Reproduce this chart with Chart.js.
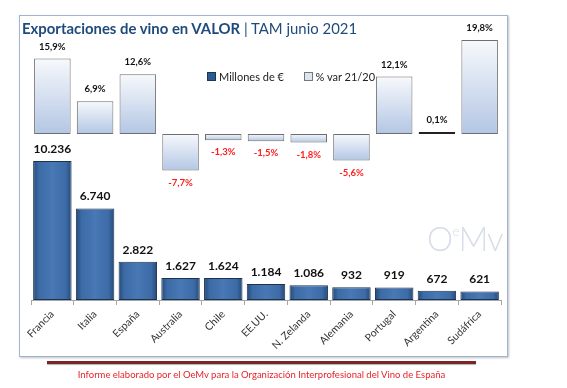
<!DOCTYPE html>
<html>
<head>
<meta charset="utf-8">
<script src="https://cdn.jsdelivr.net/npm/chart.js@4"></script>
<style>
  body { margin: 0; background: #fff; font-family: Lato, "Open Sans", sans-serif; }
  #wrap { position: relative; width: 567px; height: 388px; overflow: hidden; }
  #frame { position: absolute; left: 19px; top: 15px; width: 487px; height: 340px;
           border: 1.5px solid #9db6d4; box-shadow: 1px 1px 2px rgba(0,0,0,0.25); }
  #title { position: absolute; left: 22px; top: 19px; font-size: 14.9px; color: #1f4a7c; white-space: nowrap; }
  #title b { font-weight: 700; }
  #legend { position: absolute; left: 207px; top: 70px; font-size: 11px; color: #222; white-space: nowrap; }
  #legend span.box { display: inline-block; width: 7px; height: 7px; margin-right: 3px; vertical-align: 0px; }
  #mark { position: absolute; left: 427px; top: 218px; color: #d7dde9; font-size: 33px; font-weight: 300; letter-spacing: -1px; }
  #mark sup { font-size: 14px; vertical-align: 15px; }
  #rule { position: absolute; left: 47px; top: 361px; width: 429px; height: 3px; background: #7a2626;
          box-shadow: 0 1px 1px rgba(0,0,0,0.3); }
  #foot { position: absolute; left: 0; width: 523px; top: 369px; text-align: center; font-size: 9.5px; color: #e8232a; }
  canvas { position: absolute; left: 0; top: 0; }
</style>
</head>
<body>
<div id="wrap">
  <div id="frame"></div>
  <canvas id="chart" width="567" height="388"></canvas>
  <div id="title"><b>Exportaciones de vino en VALOR</b> | TAM junio 2021</div>
  <div id="legend">
    <span class="box" style="background:#2d5a91;border:1px solid #1c3553"></span>Millones de €
    <span style="display:inline-block;width:14px"></span>
    <span class="box" style="background:#dbe5f1;border:1px solid #777"></span>% var 21/20
  </div>
  <div id="mark">O<sup>e</sup>Mv</div>
  <div id="rule"></div>
  <div id="foot">Informe elaborado por el OeMv para la Organización Interprofesional del Vino de España</div>
</div>
<script>
// Datos
const paises = ['Francia', 'Italia', 'España', 'Australia', 'Chile', 'EE.UU.', 'N. Zelanda', 'Alemania', 'Portugal', 'Argentina', 'Sudáfrica'];
const millones = [10236, 6740, 2822, 1627, 1624, 1184, 1086, 932, 919, 672, 621];
const variacion = [15.9, 6.9, 12.6, -7.7, -1.3, -1.5, -1.8, -5.6, 12.1, 0.1, 19.8];

const BAR_PCT = 0.9;

// Formato español: punto para miles, coma para decimales
function fmtMiles(v) {
  return String(v).replace(/\B(?=(\d{3})+(?!\d))/g, '.');
}
function fmtPct(v) {
  return v.toFixed(1).replace('.', ',') + '%';
}

// Ancho de barra en pixeles
function barBounds(chart, i) {
  const x = chart.scales.x;
  const w = (x.width / paises.length) * BAR_PCT;
  const cx = x.getPixelForValue(i);
  return [cx - w / 2, cx + w / 2];
}

// Degradado horizontal para las barras de valor
function fondoValor(context) {
  const chart = context.chart;
  if (!chart.chartArea || context.dataIndex === undefined) return '#3a6aa5';
  const [x0, x1] = barBounds(chart, context.dataIndex);
  const g = chart.ctx.createLinearGradient(x0, 0, x1, 0);
  g.addColorStop(0, '#254a78');
  g.addColorStop(0.15, '#3c6ba6');
  g.addColorStop(0.5, '#4878b5');
  g.addColorStop(0.85, '#3c6ba6');
  g.addColorStop(1, '#254a78');
  return g;
}

// Degradado vertical para las barras de variacion
function fondoPct(context) {
  const chart = context.chart;
  if (!chart.chartArea || context.dataIndex === undefined) return '#c9d7ec';
  const s = chart.scales.yPct;
  const v = variacion[context.dataIndex];
  const yv = s.getPixelForValue(v);
  const y0 = s.getPixelForValue(0);
  const top = Math.min(yv, y0), bot = Math.max(yv, y0);
  const g = chart.ctx.createLinearGradient(0, top, 0, bot + 0.01);
  g.addColorStop(0, '#f7f9fc');
  g.addColorStop(1, '#b3c6e4');
  return g;
}

// Etiquetas de datos
const etiquetas = {
  id: 'etiquetas',
  afterDatasetsDraw(chart) {
    const c = chart.ctx;
    c.save();
    c.textAlign = 'center';
    c.textBaseline = 'middle';
    chart.getDatasetMeta(0).data.forEach((el, i) => {
      c.font = 'bold 12px Lato';
      c.fillStyle = '#111';
      c.fillText(fmtMiles(millones[i]), el.x, el.y - 12);
    });
    chart.getDatasetMeta(1).data.forEach((el, i) => {
      const v = variacion[i];
      c.font = 'bold 9.5px Lato';
      if (v >= 0) {
        c.fillStyle = '#111';
        c.fillText(fmtPct(v), el.x, el.y - 12);
      } else {
        c.fillStyle = '#ff1a1a';
        c.fillText(fmtPct(v), el.x, el.y + 12);
      }
    });
    c.restore();
  }
};

new Chart(document.getElementById('chart'), {
  type: 'bar',
  data: {
    labels: paises,
    datasets: [
      {
        label: 'Millones de €',
        data: millones,
        yAxisID: 'y',
        backgroundColor: fondoValor,
        borderColor: '#1c3350',
        borderWidth: 1,
        borderSkipped: false,
        grouped: false,
        barPercentage: BAR_PCT,
        categoryPercentage: 1
      },
      {
        label: '% var 21/20',
        data: variacion,
        yAxisID: 'yPct',
        backgroundColor: fondoPct,
        borderColor: (ctx) => Math.abs(variacion[ctx.dataIndex]) < 0.5 ? '#222' : '#6e6e6e',
        borderWidth: 1,
        borderSkipped: false,
        minBarLength: 2,
        grouped: false,
        barPercentage: BAR_PCT * 0.95,
        categoryPercentage: 1
      }
    ]
  },
  options: {
    responsive: false,
    animation: false,
    devicePixelRatio: 1,
    layout: { padding: { top: 25, left: 31, right: 66, bottom: 0 } },
    plugins: {
      legend: { display: false },
      tooltip: { enabled: false }
    },
    scales: {
      x: {
        afterFit: (scale) => { scale.height = 88; },
        grid: { display: true, drawOnChartArea: false, drawTicks: true, tickLength: 5, color: '#a6a6a6' },
        border: { display: true, color: '#a6a6a6' },
        ticks: {
          minRotation: 45,
          maxRotation: 45,
          color: '#333',
          font: { family: 'Lato', size: 10.5 }
        }
      },
      y: { display: false, min: 0, max: 20250 },
      yPct: { display: false, min: -34.95, max: 22.95 }
    }
  },
  plugins: [etiquetas]
});
</script>
</body>
</html>
